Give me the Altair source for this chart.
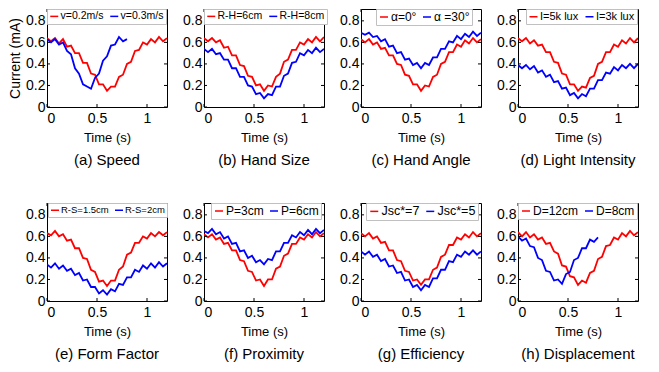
import altair as alt
import pandas as pd

T = [0.00, 0.04, 0.08, 0.12, 0.16, 0.20, 0.24, 0.28, 0.32, 0.36, 0.40, 0.44, 0.48, 0.52,
     0.56, 0.60, 0.64, 0.68, 0.72, 0.76, 0.80, 0.84, 0.88, 0.92, 0.96, 1.00, 1.04, 1.08,
     1.12, 1.16, 1.20]
T_SHORT = T[:21]

X_TICKS = [0, 0.5, 1]
Y_TICKS = [0, 0.2, 0.4, 0.6, 0.8]

RED = "#ff0000"
BLUE = "#0000ff"

titles = ["(a) Speed", "(b) Hand Size", "(c) Hand Angle", "(d) Light Intensity",
          "(e) Form Factor", "(f) Proximity", "(g) Efficiency", "(h) Displacement"]
labels = [("v=0.2m/s", "v=0.3m/s"), ("R-H=6cm", "R-H=8cm"), ("α=0°", "α =30°"),
          ("I=5k lux", "I=3k lux"), ("R-S=1.5cm", "R-S=2cm"), ("P=3cm", "P=6cm"),
          ("Jsc*=7", "Jsc*=5"), ("D=12cm", "D=8cm")]

red_a = [.64, .61, .64, .59, .63, .56, .57, .50, .50, .41, .41, .31, .30, .21, .21, .15, .19, .19, .28, .30, .40, .42, .52, .53, .60, .58, .63, .60, .65, .61, .64]
blue_a = [.63, .60, .63, .58, .60, .52, .49, .36, .31, .21, .19, .17, .27, .31, .43, .47, .57, .58, .65, .61, .63]
red_b = [.64, .61, .64, .60, .62, .55, .56, .48, .48, .39, .38, .29, .28, .20, .21, .15, .20, .19, .28, .31, .42, .44, .53, .53, .60, .58, .63, .60, .65, .61, .65]
blue_b = [.54, .51, .54, .49, .50, .44, .44, .36, .36, .28, .28, .20, .19, .12, .13, .08, .12, .11, .19, .19, .29, .31, .41, .42, .50, .48, .53, .50, .55, .51, .54]
red_c = [.63, .60, .63, .58, .60, .54, .55, .48, .48, .40, .39, .30, .29, .21, .21, .15, .20, .19, .28, .30, .40, .42, .51, .51, .58, .56, .62, .59, .64, .60, .63]
blue_c = [.69, .67, .69, .65, .66, .61, .63, .56, .57, .50, .51, .44, .45, .39, .41, .36, .41, .39, .46, .46, .54, .54, .61, .60, .66, .63, .68, .65, .70, .66, .69]
red_d = [.64, .61, .64, .59, .62, .57, .58, .51, .51, .42, .41, .31, .30, .21, .21, .15, .19, .18, .27, .29, .40, .42, .51, .51, .58, .56, .62, .59, .64, .60, .64]
blue_d = [.39, .36, .39, .35, .38, .32, .34, .28, .30, .23, .24, .17, .18, .11, .13, .08, .12, .10, .17, .17, .25, .25, .32, .31, .37, .34, .39, .36, .40, .36, .40]
red_e = [.63, .61, .65, .60, .62, .56, .57, .49, .49, .40, .39, .29, .27, .18, .19, .14, .19, .19, .29, .32, .43, .45, .54, .54, .60, .58, .63, .60, .64, .61, .64]
blue_e = [.34, .31, .35, .30, .33, .28, .30, .24, .26, .19, .20, .13, .13, .07, .10, .06, .11, .09, .16, .15, .22, .22, .29, .27, .33, .30, .35, .31, .36, .32, .35]
red_f = [.62, .59, .62, .57, .59, .53, .54, .47, .47, .38, .37, .28, .27, .19, .20, .14, .20, .20, .30, .32, .42, .44, .53, .53, .59, .57, .62, .59, .64, .60, .63]
blue_f = [.65, .63, .67, .62, .64, .58, .60, .53, .54, .46, .47, .40, .42, .36, .38, .34, .39, .38, .46, .46, .54, .54, .61, .59, .64, .61, .66, .62, .67, .63, .66]
red_g = [.63, .60, .63, .58, .60, .54, .55, .47, .47, .38, .37, .28, .27, .19, .20, .15, .20, .20, .29, .31, .41, .43, .52, .52, .59, .57, .62, .59, .64, .60, .63]
blue_g = [.46, .43, .46, .41, .43, .37, .39, .32, .33, .26, .27, .19, .20, .13, .15, .10, .15, .13, .21, .21, .29, .29, .37, .36, .43, .41, .46, .43, .47, .43, .46]
red_h = [.64, .60, .64, .59, .62, .57, .59, .53, .54, .46, .44, .33, .32, .23, .22, .15, .19, .17, .26, .28, .39, .41, .51, .52, .59, .57, .63, .60, .65, .61, .64]
blue_h = [.60, .56, .58, .51, .50, .40, .38, .28, .27, .19, .20, .16, .25, .27, .38, .40, .49, .49, .57, .55, .59]

reds = [red_a, red_b, red_c, red_d, red_e, red_f, red_g, red_h]
blues = [blue_a, blue_b, blue_c, blue_d, blue_e, blue_f, blue_g, blue_h]

# legend placement (offset from plot's left/top) and label size per panel
leg_x = [0, 0, 15, 8, 1, 7, 5, 0]
leg_y = [0, 0, 0, 0, 0, 0, 0, 0]
leg_fs = [10.5, 10.5, 12, 11, 9.5, 12, 12.5, 12]

FONT = "Liberation Sans"
W, H = 120, 98
XS = alt.Scale(domain=[0, 1.2], nice=False)
YS = alt.Scale(domain=[0, 0.91], nice=False)

xt_df = pd.DataFrame({"tx": X_TICKS})
yt_df = pd.DataFrame({"ty": Y_TICKS})


def panel(i, ytitle=""):
    l1, l2 = labels[i]
    r, b = reds[i], blues[i]
    tb = T if len(b) == len(T) else T_SHORT
    df = pd.DataFrame({
        "t": T + tb,
        "v": r + b,
        "s": [l1] * len(r) + [l2] * len(b),
    })
    xax = alt.Axis(values=X_TICKS, format="~g", title="Time (s)")
    yax = alt.Axis(values=Y_TICKS, format="~g", title=ytitle)
    lines = alt.Chart(df).mark_line(strokeWidth=1.8, clip=True).encode(
        x=alt.X("t:Q", scale=XS, axis=xax),
        y=alt.Y("v:Q", scale=YS, axis=yax),
        color=alt.Color("s:N", scale=alt.Scale(domain=[l1, l2], range=[RED, BLUE]),
                        legend=alt.Legend(title=None, orient="none", legendX=leg_x[i],
                                          legendY=leg_y[i], direction="horizontal",
                                          labelFontSize=leg_fs[i])),
        detail="s:N",
    )
    xb = alt.Chart(xt_df).mark_rule(color="black", strokeWidth=1).encode(
        x=alt.X("tx:Q", scale=XS, axis=xax), y=alt.value(H), y2=alt.value(H - 3))
    xtop = alt.Chart(xt_df).mark_rule(color="black", strokeWidth=1).encode(
        x=alt.X("tx:Q", scale=XS, axis=xax), y=alt.value(0), y2=alt.value(3))
    yl = alt.Chart(yt_df).mark_rule(color="black", strokeWidth=1).encode(
        y=alt.Y("ty:Q", scale=YS, axis=yax), x=alt.value(0), x2=alt.value(3))
    yr = alt.Chart(yt_df).mark_rule(color="black", strokeWidth=1).encode(
        y=alt.Y("ty:Q", scale=YS, axis=yax), x=alt.value(W), x2=alt.value(W - 3))
    return alt.layer(lines, xb, xtop, yl, yr).properties(
        width=W, height=H,
        title=alt.TitleParams(titles[i], orient="bottom", anchor="middle", offset=9),
    )


panels = [panel(0, "Current (mA)")] + [panel(i) for i in range(1, 8)]

chart = alt.concat(
    *panels, columns=4, spacing={"row": 96, "column": 37}, bounds="flush"
).resolve_scale(
    x="independent", y="independent", color="independent"
).resolve_legend(
    color="independent"
).properties(
    padding={"left": 0, "top": 0, "right": 2, "bottom": 2}
).configure_view(
    stroke="black", strokeWidth=1
).configure_axis(
    domain=False, grid=False, ticks=False, tickSize=0,
    labelFont=FONT, labelFontSize=14, labelColor="black", labelPadding=4,
    titleFont=FONT, titleFontSize=13, titleFontWeight="normal", titleColor="black",
    titlePadding=6,
).configure_axisY(
    titleFontSize=14, titlePadding=3, labelPadding=2,
).configure_legend(
    symbolType="stroke", symbolStrokeWidth=1.5, symbolSize=64,
    labelFont=FONT, labelColor="black", fillColor="white", strokeColor="#c0c0c0",
    padding=2, columnPadding=3, labelOffset=1, symbolOffset=0,
).configure_title(
    font=FONT, fontSize=15, fontWeight="normal", color="black",
)

chart.save("out.html", embed_options={"renderer": "svg", "actions": False})
